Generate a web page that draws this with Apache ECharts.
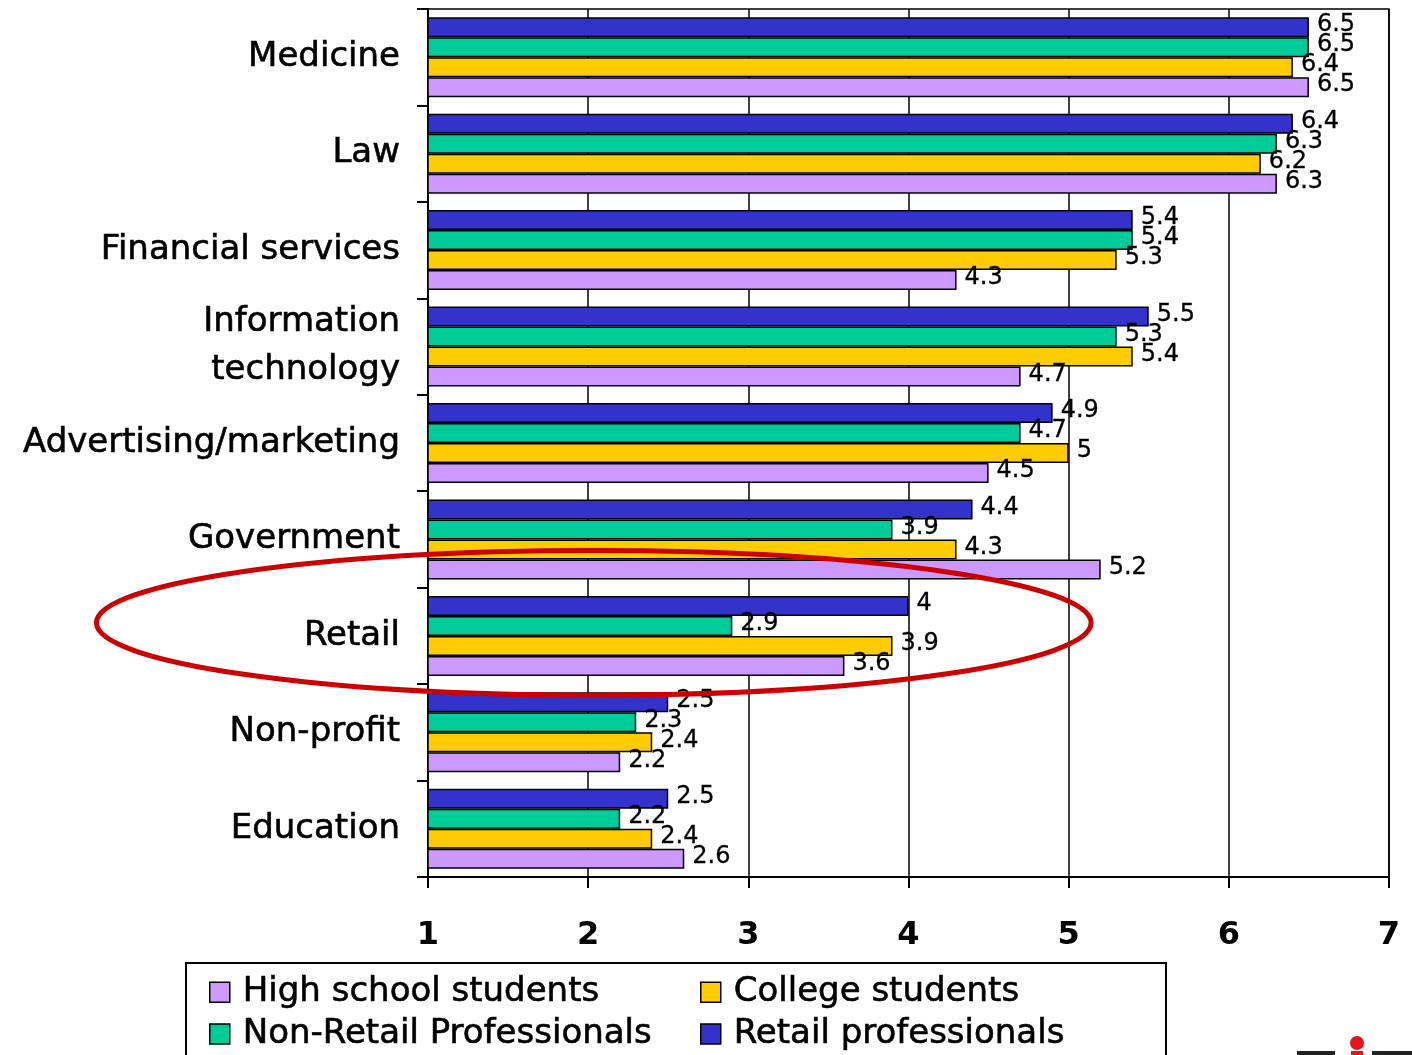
<!DOCTYPE html>
<html>
<head>
<meta charset="utf-8">
<script src="https://cdn.jsdelivr.net/npm/echarts@6/dist/echarts.min.js"></script>
<style>
  html, body { margin: 0; padding: 0; background: #fff; }
  #chart { width: 1412px; height: 1055px; }
</style>
</head>
<body>
<div id="chart"></div>
<script>
// Sectors rated by each respondent group (top to bottom)
const categories = [
  'Medicine', 'Law', 'Financial services', 'Information\ntechnology',
  'Advertising/marketing', 'Government', 'Retail', 'Non-profit', 'Education'
];
const retailPros    = [6.5, 6.4, 5.4, 5.5, 4.9, 4.4, 4,   2.5, 2.5];
const nonRetailPros = [6.5, 6.3, 5.4, 5.3, 4.7, 3.9, 2.9, 2.3, 2.2];
const college       = [6.4, 6.2, 5.3, 5.4, 5,   4.3, 3.9, 2.4, 2.4];
const highSchool    = [6.5, 6.3, 4.3, 4.7, 4.5, 5.2, 3.6, 2.2, 2.6];
const xTicks = [1, 2, 3, 4, 5, 6, 7];

const FONT = '"DejaVu Sans", Verdana, sans-serif';
// a hairline outline gives the regular face a slightly heavier look
const INK = { color: '#000', textBorderColor: '#000', textBorderWidth: 0.6 };

function barSeries(name, data, color) {
  return {
    name: name,
    type: 'bar',
    data: data,
    barWidth: 20,
    barGap: '0%',
    itemStyle: { color: color, borderColor: '#000', borderWidth: 1.5 },
    label: Object.assign({
      show: true,
      position: 'right',
      distance: 8,
      offset: [0, -2],
      fontFamily: FONT,
      fontSize: 24
    }, INK, { textBorderWidth: 0.3 })
  };
}

function legendBlock(left, names) {
  return {
    orient: 'vertical', left: left, top: 975, padding: 0,
    itemWidth: 20, itemHeight: 20, itemGap: 7,
    icon: 'rect',
    itemStyle: { borderColor: '#000', borderWidth: 1.5 },
    textStyle: Object.assign({ fontFamily: FONT, fontSize: 34, lineHeight: 34, padding: [0, 0, 0, 8] }, INK),
    data: names
  };
}

const chart = echarts.init(document.getElementById('chart'));
const option = {
  animation: false,
  backgroundColor: '#fff',
  grid: {
    left: 428, right: 23, top: 9, bottom: 178,
    show: true, borderColor: '#000', borderWidth: 1.5, backgroundColor: 'transparent'
  },
  xAxis: {
    type: 'value',
    min: xTicks[0],
    max: xTicks[xTicks.length - 1],
    interval: 1,
    axisLine: { show: true, lineStyle: { color: '#000', width: 2 } },
    axisTick: { show: true, length: 11, lineStyle: { color: '#000', width: 2 } },
    splitLine: { show: true, lineStyle: { color: '#000', width: 1.5 } },
    axisLabel: {
      margin: 43, fontFamily: FONT, fontSize: 32, fontWeight: 'bold', color: '#000'
    }
  },
  yAxis: {
    type: 'category',
    data: categories,
    inverse: true,
    axisLine: { show: true, lineStyle: { color: '#000', width: 2 } },
    axisTick: { show: true, length: 11, lineStyle: { color: '#000', width: 2 } },
    axisLabel: Object.assign({
      margin: 28, fontFamily: FONT, fontSize: 34, lineHeight: 48, align: 'right'
    }, INK)
  },
  legend: [
    legendBlock(209, ['High school students', 'Non-Retail Professionals']),
    legendBlock(700, ['College students', 'Retail professionals'])
  ],
  series: [
    barSeries('Retail professionals', retailPros, '#3333CC'),
    barSeries('Non-Retail Professionals', nonRetailPros, '#00CC99'),
    barSeries('College students', college, '#FFCC00'),
    barSeries('High school students', highSchool, '#CC99FF')
  ]
};
chart.setOption(option);

// Highlight ring around the Retail group, placed from axis values
const retailY = chart.convertToPixel({ yAxisIndex: 0 }, 'Retail');
const govY = chart.convertToPixel({ yAxisIndex: 0 }, 'Government');
const bandH = Math.abs(retailY - govY);
const leftX = chart.convertToPixel({ xAxisIndex: 0 }, -1.07);
const rightX = chart.convertToPixel({ xAxisIndex: 0 }, 5.14);

chart.setOption({
  graphic: [
    {
      type: 'ellipse',
      shape: {
        cx: (leftX + rightX) / 2,
        cy: retailY - bandH * 0.135,
        rx: (rightX - leftX) / 2,
        ry: bandH * 0.75
      },
      style: { fill: 'none', stroke: '#CC0000', lineWidth: 5 },
      z: 100
    },
    {
      type: 'rect',
      shape: { x: 186, y: 963, width: 980, height: 110 },
      style: { fill: 'none', stroke: '#000', lineWidth: 2 },
      z: 50
    },
    // corner logo fragment
    { type: 'circle', shape: { cx: 1357, cy: 1043, r: 7 }, style: { fill: '#E8141C' } },
    { type: 'rect', shape: { x: 1297, y: 1051, width: 38, height: 6 }, style: { fill: '#222' } },
    { type: 'rect', shape: { x: 1351, y: 1051, width: 12, height: 6 }, style: { fill: '#E8141C' } },
    { type: 'rect', shape: { x: 1372, y: 1051, width: 40, height: 6 }, style: { fill: '#222' } }
  ]
});
</script>
</body>
</html>
